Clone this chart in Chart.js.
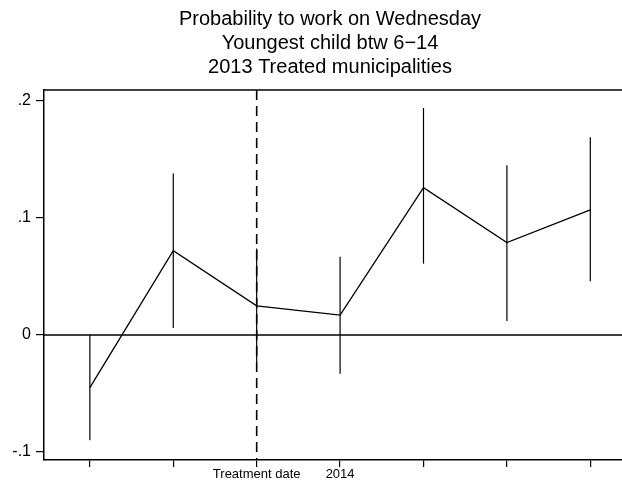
<!DOCTYPE html>
<html>
<head>
<meta charset="utf-8">
<script src="https://cdn.jsdelivr.net/npm/chart.js@4.4.1/dist/chart.umd.min.js"></script>
<style>
  html, body { margin: 0; padding: 0; background: #ffffff; }
  #wrap { width: 622px; height: 482px; }
</style>
</head>
<body>
<div id="wrap"><canvas id="c" width="622" height="482"></canvas></div>
<script>
// Period index, x-axis labels and event-study estimates with 95% CI
const periods = [0, 1, 2, 3, 4, 5, 6];
const xLabels = ["", "", "Treatment date", "2014", "", "", ""];
const estimates = [-0.045, 0.072, 0.025, 0.017, 0.126, 0.079, 0.107];
const ciLower = [-0.090, 0.006, -0.023, -0.033, 0.061, 0.012, 0.046];
const ciUpper = [0.000, 0.138, 0.074, 0.067, 0.194, 0.145, 0.169];
const yTicks = [-0.1, 0, 0.1, 0.2];
const titleLines = ["Probability to work on Wednesday", "Youngest child btw 6\u221214", "2013 Treated municipalities"];
const treatmentPeriod = 2;

function fmtTick(v) {
  if (Math.abs(v) < 1e-9) return "0";
  const s = String(Math.round(v * 10) / 10);
  return s.replace(/^(-?)0\./, "$1.");
}

const decor = {
  id: "decor",
  beforeDatasetsDraw(chart) {
    const { ctx, chartArea: a, scales: { x, y } } = chart;
    ctx.save();
    ctx.strokeStyle = "#000";
    // top frame line
    ctx.lineWidth = 1.5;
    ctx.beginPath();
    ctx.moveTo(a.left, a.top);
    ctx.lineTo(a.right, a.top);
    ctx.stroke();
    // zero reference line
    const y0 = y.getPixelForValue(0);
    ctx.lineWidth = 1.6;
    ctx.beginPath();
    ctx.moveTo(a.left, y0);
    ctx.lineTo(a.right, y0);
    ctx.stroke();
    // treatment date dashed line
    const xt = x.getPixelForValue(treatmentPeriod);
    ctx.lineWidth = 1.6;
    ctx.setLineDash([10, 6]);
    ctx.beginPath();
    ctx.moveTo(xt, a.top);
    ctx.lineTo(xt, a.bottom);
    ctx.stroke();
    ctx.setLineDash([]);
    // confidence intervals
    ctx.lineWidth = 1.2;
    periods.forEach((p, i) => {
      const px = x.getPixelForValue(p);
      ctx.beginPath();
      ctx.moveTo(px, y.getPixelForValue(ciLower[i]));
      ctx.lineTo(px, y.getPixelForValue(ciUpper[i]));
      ctx.stroke();
    });
    ctx.restore();
  },
  afterDraw(chart) {
    const { ctx, chartArea: a } = chart;
    ctx.save();
    ctx.fillStyle = "#000";
    ctx.font = "20px 'Liberation Sans', Arial, sans-serif";
    ctx.textAlign = "center";
    ctx.textBaseline = "middle";
    const cx = (a.left + a.right) / 2 - 3;
    titleLines.forEach((t, i) => ctx.fillText(t, cx, 19 + i * 24));
    ctx.restore();
  }
};

new Chart(document.getElementById("c"), {
  type: "line",
  data: {
    datasets: [{
      data: periods.map((p, i) => ({ x: p, y: estimates[i] })),
      borderColor: "#000",
      borderWidth: 1.3,
      pointRadius: 0,
      fill: false,
      tension: 0
    }]
  },
  options: {
    responsive: false,
    animation: false,
    devicePixelRatio: 1,
    layout: { padding: { top: 90, right: 0, left: 0, bottom: 0 } },
    plugins: { legend: { display: false }, tooltip: { enabled: false }, title: { display: false } },
    scales: {
      x: {
        type: "linear",
        min: -0.55,
        max: 6.38,
        afterBuildTicks(s) { s.ticks = periods.map(v => ({ value: v })); },
        afterFit(s) { s.height = 22; },
        grid: { drawOnChartArea: false, drawTicks: true, tickLength: 7, color: "#000", lineWidth: 1.2 },
        border: { display: true, color: "#000", width: 1.5 },
        ticks: {
          autoSkip: false,
          maxRotation: 0,
          padding: 0,
          color: "#000",
          font: { family: "'Liberation Sans', Arial, sans-serif", size: 13 },
          callback: (v) => xLabels[Math.round(v)] || ""
        }
      },
      y: {
        type: "linear",
        min: -0.1068,
        max: 0.2094,
        afterBuildTicks(s) { s.ticks = yTicks.map(v => ({ value: v })); },
        afterFit(s) { s.width = 44; },
        grid: { drawOnChartArea: false, drawTicks: true, tickLength: 8, color: "#000", lineWidth: 1.2 },
        border: { display: true, color: "#000", width: 1.5 },
        ticks: {
          padding: 5,
          color: "#000",
          font: { family: "'Liberation Sans', Arial, sans-serif", size: 16 },
          callback: (v) => fmtTick(v)
        }
      }
    }
  },
  plugins: [decor]
});
</script>
</body>
</html>
